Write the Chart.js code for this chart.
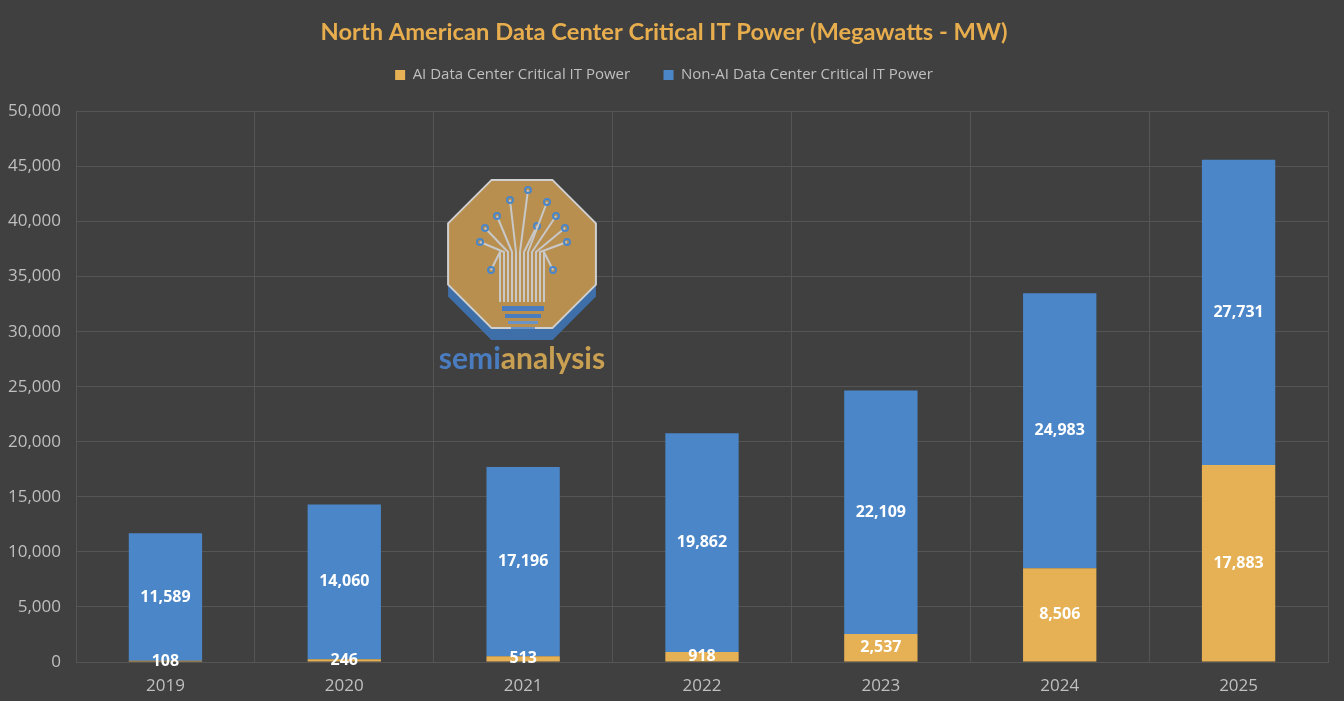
<!DOCTYPE html>
<html>
<head>
<meta charset="utf-8">
<script src="https://cdn.jsdelivr.net/npm/chart.js@4/dist/chart.umd.min.js"></script>
<style>
  html, body { margin: 0; padding: 0; background: #404040; }
  #wrap { width: 1344px; height: 701px; }
</style>
</head>
<body>
<div id="wrap"><canvas id="myChart"></canvas></div>
<script>
var years = ["2019", "2020", "2021", "2022", "2023", "2024", "2025"];
var aiPower = [108, 246, 513, 918, 2537, 8506, 17883];
var nonAiPower = [11589, 14060, 17196, 19862, 22109, 24983, 27731];
var seriesNames = ["AI Data Center Critical IT Power", "Non-AI Data Center Critical IT Power"];

var orange = "#E5B154";
var blue = "#4A86C8";
var textGrey = "#BFBFBF";

// watermark logo behind the bars
var logo = {
    id: "logo",
    beforeDatasetsDraw: function(chart) {
        var ctx = chart.ctx;
        var cx = 522, cy = 254, r = 80;
        function octo(dy) {
            ctx.beginPath();
            for (var k = 0; k < 8; k++) {
                var a = Math.PI / 8 + k * Math.PI / 4;
                var x = cx + r * Math.cos(a), y = cy + dy + r * Math.sin(a);
                if (k == 0) ctx.moveTo(x, y); else ctx.lineTo(x, y);
            }
            ctx.closePath();
        }
        ctx.save();
        ctx.lineJoin = "round";
        octo(12);
        ctx.fillStyle = "#3F6FA8";
        ctx.fill();
        octo(0);
        ctx.fillStyle = "#B88F4F";
        ctx.fill();
        ctx.strokeStyle = "#D0D0D0";
        ctx.lineWidth = 2;
        ctx.stroke();
        // bulb base
        ctx.fillStyle = "#4A7CC0";
        ctx.fillRect(502, 306, 42, 5);
        ctx.fillRect(505, 314, 36, 4);
        ctx.fillStyle = "#6A93C8";
        ctx.fillRect(508, 321, 30, 3);
        ctx.fillRect(511, 327, 24, 2);
        // circuit branches
        ctx.lineWidth = 2;
        var tips = [[491, 270], [480, 242], [485, 228], [497, 216], [510, 200], [528, 190], [537, 226], [547, 202], [556, 216], [565, 228], [567, 242], [553, 270]];
        for (var t = 0; t < tips.length; t++) {
            var bx = 500 + t * 4;
            ctx.beginPath();
            ctx.moveTo(bx, 302);
            ctx.lineTo(bx, 252);
            ctx.lineTo(tips[t][0], tips[t][1]);
            ctx.strokeStyle = "#C8C8C8";
            ctx.stroke();
            ctx.beginPath();
            ctx.arc(tips[t][0], tips[t][1], 3, 0, Math.PI * 2);
            ctx.strokeStyle = "#4A86C8";
            ctx.stroke();
        }
        ctx.font = "bold 30px Lato";
        ctx.textBaseline = "alphabetic";
        ctx.textAlign = "left";
        var w1 = ctx.measureText("semi").width;
        var w2 = ctx.measureText("analysis").width;
        var sx = cx - (w1 + w2) / 2;
        ctx.fillStyle = "#4A7CC0";
        ctx.fillText("semi", sx, 369);
        ctx.fillStyle = "#C9A052";
        ctx.fillText("analysis", sx + w1, 369);
        ctx.restore();
    }
};

// white value labels centred in each segment
var valueLabels = {
    id: "valueLabels",
    afterDatasetsDraw: function(chart) {
        var ctx = chart.ctx;
        ctx.save();
        ctx.font = "bold 16px 'Open Sans'";
        ctx.fillStyle = "#FFFFFF";
        ctx.textAlign = "center";
        ctx.textBaseline = "middle";
        chart.data.datasets.forEach(function(ds, i) {
            var meta = chart.getDatasetMeta(i);
            meta.data.forEach(function(bar, j) {
                var y = (bar.y + bar.base) / 2;
                ctx.fillText(ds.data[j].toLocaleString("en-US"), bar.x, y);
            });
        });
        ctx.restore();
    }
};

// extra room under the legend
var legendGap = {
    id: "legendGap",
    beforeLayout: function(chart) {
        var lg = chart.legend;
        if (lg && !lg._gapDone) {
            var fit = lg.fit;
            lg.fit = function() {
                fit.call(this);
                this.height += 19;
            };
            lg._gapDone = true;
        }
    }
};

new Chart("myChart", {
    type: "bar",
    data: {
        labels: years,
        datasets: [{
            label: seriesNames[0],
            data: aiPower,
            backgroundColor: orange,
            categoryPercentage: 1,
            barPercentage: 0.41
        }, {
            label: seriesNames[1],
            data: nonAiPower,
            backgroundColor: blue,
            categoryPercentage: 1,
            barPercentage: 0.41
        }]
    },
    options: {
        responsive: true,
        maintainAspectRatio: false,
        animation: false,
        layout: { padding: { left: 0, right: 16, bottom: 0 } },
        plugins: {
            title: {
                display: true,
                text: "North American Data Center Critical IT Power (Megawatts - MW)",
                color: "#E8AE4E",
                font: { family: "Lato", size: 23.7, weight: "bold" },
                padding: { top: 18, bottom: 11 }
            },
            legend: {
                display: true,
                labels: {
                    color: textGrey,
                    font: { family: "'Open Sans'", size: 15 },
                    boxWidth: 10,
                    boxHeight: 10,
                    padding: 10,
                    generateLabels: function(chart) {
                        var items = Chart.defaults.plugins.legend.labels.generateLabels(chart);
                        items[0].text = items[0].text + "      ";
                        return items;
                    }
                }
            },
            tooltip: { enabled: false }
        },
        scales: {
            x: {
                stacked: true,
                grid: { color: "#555555", drawTicks: false },
                border: { color: "#555555" },
                ticks: { color: textGrey, font: { family: "'Open Sans'", size: 17 }, padding: 14 },
                afterFit: function(s) { s.height = 39; }
            },
            y: {
                stacked: true,
                min: 0,
                max: 50000,
                grid: { color: "#555555", drawTicks: false },
                border: { display: false },
                ticks: {
                    stepSize: 5000,
                    color: textGrey,
                    font: { family: "'Open Sans'", size: 17 },
                    padding: 15,
                    callback: function(v) { return v.toLocaleString("en-US"); }
                },
                afterFit: function(s) { s.width = 76; }
            }
        }
    },
    plugins: [logo, valueLabels, legendGap]
});
</script>
</body>
</html>
